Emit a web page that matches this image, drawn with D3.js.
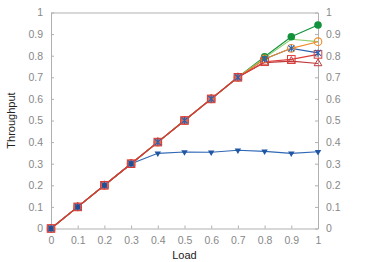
<!DOCTYPE html>
<html>
<head>
<meta charset="utf-8">
<script src="https://cdn.jsdelivr.net/npm/d3@7"></script>
<style>
  body { margin: 0; background: #fff; }
  svg { display: block; font-family: "Liberation Sans", Arial, sans-serif; }
</style>
</head>
<body>
<div id="chart"></div>
<script>
// loads on the x axis
const loads = [0, 0.1, 0.2, 0.3, 0.4, 0.5, 0.6, 0.7, 0.8, 0.9, 1];
const yTicks = [0, 0.1, 0.2, 0.3, 0.4, 0.5, 0.6, 0.7, 0.8, 0.9, 1];

// series throughput values
const greenDots   = [0, 0.1, 0.2, 0.3, 0.4, 0.5, 0.6, 0.7, 0.795, 0.888, 0.942];
const lightGreen  = [0, 0.1, 0.2, 0.3, 0.4, 0.5, 0.6, 0.7, 0.79, 0.876, 0.865];
const orangeRings = [0, 0.1, 0.2, 0.3, 0.4, 0.5, 0.6, 0.7, 0.785, 0.834, 0.865];
const redTris     = [0, 0.1, 0.2, 0.3, 0.4, 0.5, 0.6, 0.7, 0.768, 0.775, 0.764];
const redSquares  = [0, 0.1, 0.2, 0.3, 0.4, 0.5, 0.6, 0.7, 0.772, 0.783, 0.806];
const blueCross   = [0, 0.1, 0.2, 0.3, 0.4, 0.5, 0.6, 0.7, 0.785, 0.834, 0.813];
const blueTris    = [0, 0.1, 0.2, 0.3, 0.348, 0.354, 0.353, 0.362, 0.357, 0.348, 0.355];

// drawing order for lines: blue underneath, red on top
const series = [
    { values: blueTris,    color: "#2f68b4", marker: "tridown" },
    { values: blueCross,   color: "#2a62b0", marker: "cross" },
    { values: greenDots,   color: "#12923c", marker: "dot" },
    { values: lightGreen,  color: "#8ccf6e", marker: "none" },
    { values: orangeRings, color: "#f08c2a", marker: "ring" },
    { values: redTris,     color: "#c0393b", marker: "triup" },
    { values: redSquares,  color: "#dd3b36", marker: "square" },
];
const markerOrder = [2, 3, 4, 5, 6, 1, 0];

const W = 374, H = 262;
const margin = { top: 12.5, right: 56, bottom: 33.5, left: 51 };
const width = W - margin.left - margin.right;
const height = H - margin.top - margin.bottom;

const svg = d3.select("#chart").append("svg")
    .attr("width", W).attr("height", H)
    .append("g")
    .attr("transform", `translate(${margin.left},${margin.top})`);

const x = d3.scaleLinear().domain([0, 1]).range([0, width]);
const y = d3.scaleLinear().domain([0, 1]).range([height, 0]);

const axisColor = "#b0b0b0";
const labelColor = "#888";
const fmt = d => d3.format("")(+d.toFixed(1));

// Axes with inward ticks
const styleAxis = g => {
    g.select(".domain").attr("stroke", axisColor);
    g.selectAll(".tick line").attr("stroke", axisColor);
    g.selectAll(".tick text").attr("fill", labelColor).style("font-size", "10.5px");
};
svg.append("g").attr("transform", `translate(0,${height})`)
    .call(d3.axisBottom(x).tickValues(loads).tickFormat(fmt).tickSizeInner(-3).tickSizeOuter(0).tickPadding(8))
    .call(styleAxis);
svg.append("g")
    .call(d3.axisLeft(y).tickValues(yTicks).tickFormat(fmt).tickSizeInner(-3).tickSizeOuter(0).tickPadding(8))
    .call(styleAxis);
svg.append("g").attr("transform", `translate(${width},0)`)
    .call(d3.axisRight(y).tickValues(yTicks).tickFormat(fmt).tickSizeInner(-3).tickSizeOuter(0).tickPadding(8))
    .call(styleAxis);
svg.append("g")
    .call(d3.axisTop(x).tickValues([]).tickSizeOuter(0))
    .call(styleAxis);

svg.append("text").attr("x", width / 2).attr("y", height + 30)
    .attr("text-anchor", "middle").style("font-size", "11px").attr("fill", "#222").text("Load");
svg.append("text").attr("transform", `translate(${-36},${height / 2}) rotate(-90)`)
    .attr("text-anchor", "middle").style("font-size", "11px").attr("fill", "#222").text("Throughput");

const line = d3.line().x((d, i) => x(loads[i])).y(d => y(d));

series.forEach(s => {
    svg.append("path").datum(s.values)
        .attr("d", line).attr("fill", "none")
        .attr("stroke", s.color).attr("stroke-width", 1.1);
});

markerOrder.forEach(k => {
    const s = series[k];
    const g = svg.append("g");
    s.values.forEach((v, i) => {
        const cx = x(loads[i]), cy = y(v);
        const m = g.append("g").attr("transform", `translate(${cx},${cy})`);
        if (s.marker === "dot") {
            m.append("circle").attr("r", 3.8).attr("fill", s.color);
        } else if (s.marker === "ring") {
            m.append("circle").attr("r", 3.8).attr("fill", "none").attr("stroke", s.color).attr("stroke-width", 1.1);
        } else if (s.marker === "triup") {
            m.append("path").attr("d", d3.symbol(d3.symbolTriangle, 26)()).attr("fill", "none")
                .attr("stroke", s.color).attr("stroke-width", 1);
        } else if (s.marker === "square") {
            m.append("rect").attr("x", -3.8).attr("y", -3.8).attr("width", 7.6).attr("height", 7.6)
                .attr("fill", i <= 7 ? "rgba(232,110,100,0.85)" : "none")
                .attr("stroke", s.color).attr("stroke-width", 1);
        } else if (s.marker === "cross") {
            m.append("path").attr("d", "M-3,-3L3,3M-3,3L3,-3M0,-3.5V3.5")
                .attr("stroke", s.color).attr("stroke-width", 1.1);
        } else if (s.marker === "tridown") {
            if (i <= 3) {
                m.append("circle").attr("r", 2.6).attr("fill", "#1f4f96");
            } else {
                m.append("path").attr("d", d3.symbol(d3.symbolTriangle, 18)())
                    .attr("transform", "rotate(180)").attr("fill", "#1f56a3");
            }
        }
    });
});
</script>
</body>
</html>
